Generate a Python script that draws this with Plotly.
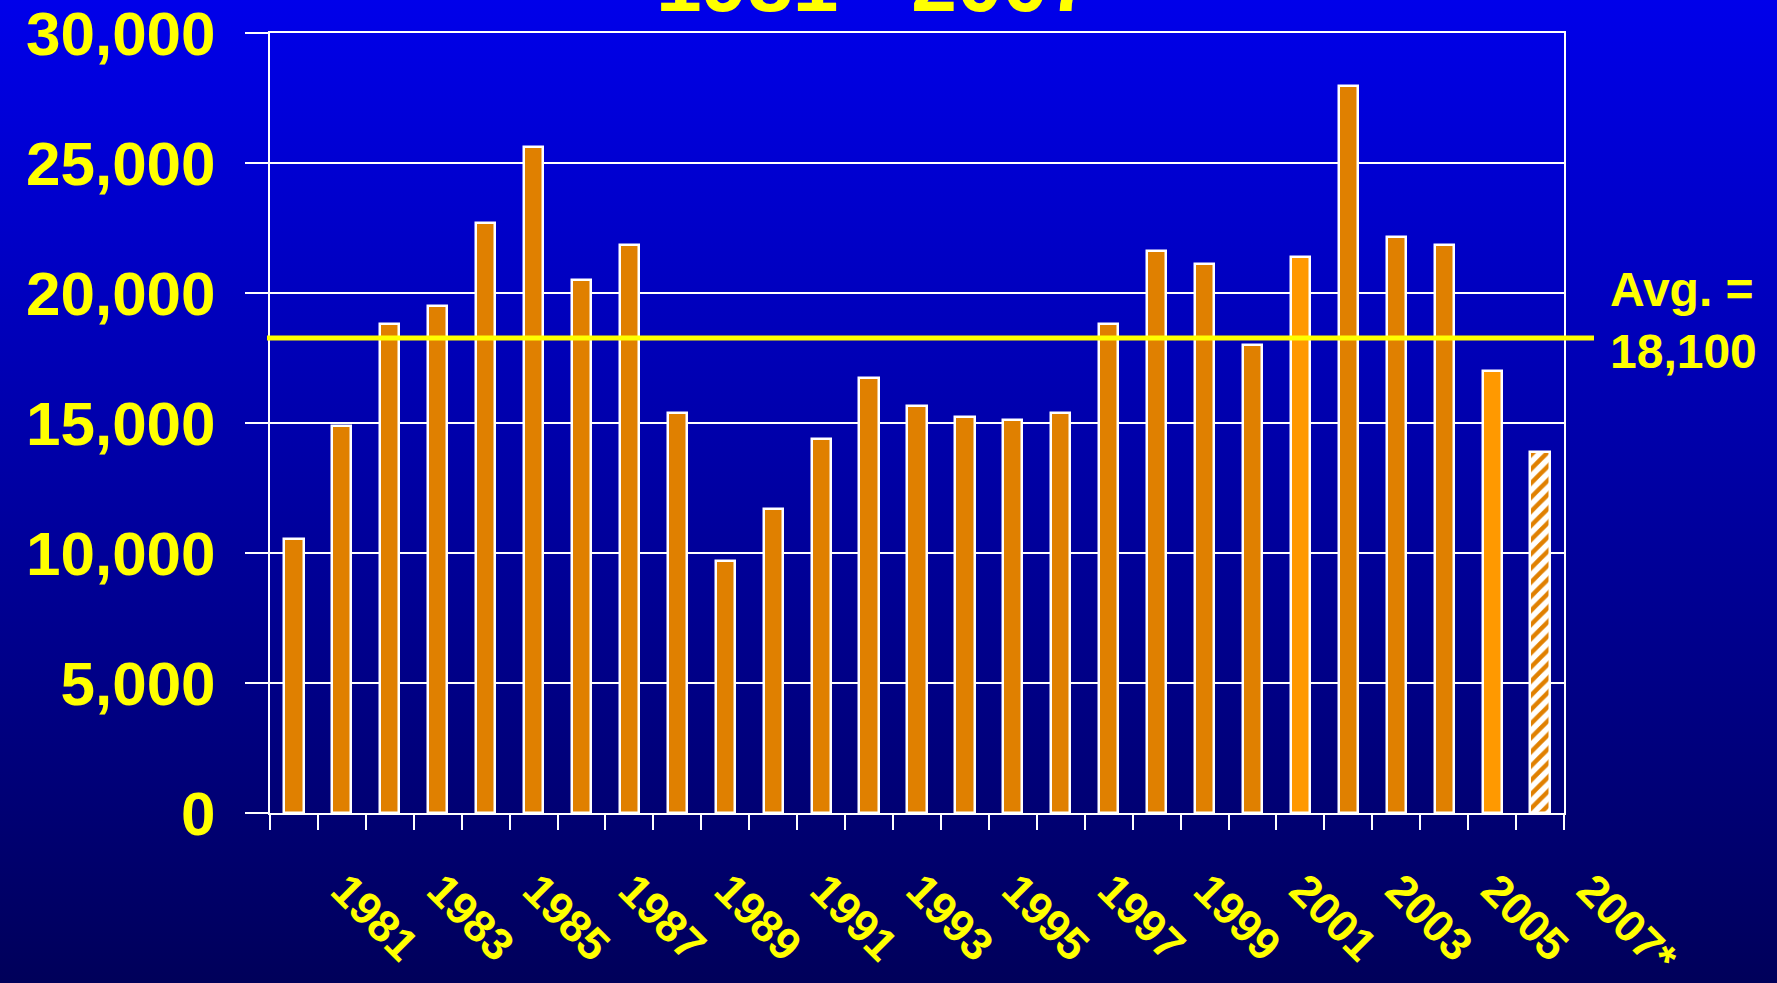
import base64
import plotly.graph_objects as go

# ---------------- data ----------------
years = list(range(1981, 2008))
values = [10550, 14900, 18800, 19500, 22700, 25600, 20500, 21850, 15400, 9700,
          11700, 14400, 16750, 15650, 15250, 15100, 15400, 18800, 21600, 21100,
          18000, 21400, 27950, 22150, 21850, 17000, 13870]
bright_years = [2002, 2006]        # lighter orange bars
projected_years = [2007]           # hatched (estimate) bar
label_years = list(range(1981, 2008, 2))
label_texts = [str(y) for y in label_years[:-1]] + ["2007*"]
y_ticks = [0, 5000, 10000, 15000, 20000, 25000, 30000]
y_tick_texts = ["0", "5,000", "10,000", "15,000", "20,000", "25,000", "30,000"]
avg_line_value = 18270
avg_text = "Avg. =<br>18,100"
title_text = "1981 - 2007"

# ---------------- styles ----------------
W, H = 1777, 983
L, R, T, B = 270, 213, 33, 170
PW, PH = W - L - R, H - T - B
YEL = "#FFFF00"
DARK_OR = "#E08000"
BRIGHT_OR = "#FF9900"
FONT = "Liberation Sans, Arial, sans-serif"

def px_to_paper_x(px):
    return (px - L) / PW

def px_to_paper_y(py):
    return 1 + (T - py) / PH

act_x = [y for y in years if y not in projected_years]
act_v = [v for y, v in zip(years, values) if y not in projected_years]
act_c = [BRIGHT_OR if y in bright_years else DARK_OR for y in act_x]
prj_x = [y for y in years if y in projected_years]
prj_v = [v for y, v in zip(years, values) if y in projected_years]

fig = go.Figure()
fig.add_trace(go.Bar(
    x=act_x, y=act_v, width=0.4,
    marker=dict(color=act_c, line=dict(color="white", width=2.5)),
    hoverinfo="skip", showlegend=False,
))
fig.add_trace(go.Bar(
    x=prj_x, y=prj_v, width=0.4,
    marker=dict(color="white", line=dict(color="white", width=2.5),
                pattern=dict(shape="/", fgcolor=DARK_OR, fgopacity=1,
                             size=10, solidity=0.45, fillmode="overlay")),
    hoverinfo="skip", showlegend=False,
))
# invisible trace that carries the label axis
fig.add_trace(go.Scatter(x=years, y=values, xaxis="x2", mode="none",
                         hoverinfo="skip", showlegend=False))

boundaries = [y - 0.5 for y in years] + [years[-1] + 0.5]
xr = [years[0] - 0.5, years[-1] + 0.5]
label_offset = 0.5
xr2 = [xr[0] - label_offset, xr[1] - label_offset]
pad = "\u00a0\u00a0\u00a0"
tick_texts2 = [pad + t for t in label_texts]

svg = (f'<svg xmlns="http://www.w3.org/2000/svg" width="{W}" height="{H}" preserveAspectRatio="none">'
       '<defs><linearGradient id="g" x1="0" y1="0" x2="0" y2="1">'
       '<stop offset="0" stop-color="#0000EA"/><stop offset="1" stop-color="#00005A"/>'
       '</linearGradient></defs><rect width="100%" height="100%" fill="url(#g)"/></svg>')
src = "data:image/svg+xml;base64," + base64.b64encode(svg.encode()).decode()

fig.update_layout(
    width=W, height=H,
    margin=dict(l=L, r=R, t=T, b=B, autoexpand=False),
    paper_bgcolor="#00005A",
    plot_bgcolor="rgba(0,0,0,0)",
    font=dict(family=FONT, color=YEL),
    bargap=0, barmode="overlay",
    images=[dict(source=src, xref="paper", yref="paper",
                 x=px_to_paper_x(0), y=px_to_paper_y(0),
                 sizex=W / PW, sizey=H / PH, sizing="stretch",
                 xanchor="left", yanchor="top", layer="below")],
    xaxis=dict(range=xr, tickmode="array", tickvals=boundaries,
               showticklabels=False, ticks="outside", ticklen=15, tickwidth=2,
               tickcolor="white", showline=True, linecolor="white", linewidth=2,
               mirror=True, showgrid=False, zeroline=False, fixedrange=True),
    xaxis2=dict(range=xr2, overlaying="x", side="bottom", anchor="y",
                tickmode="array", tickvals=label_years,
                ticktext=tick_texts2, tickangle=45, ticks="",
                tickfont=dict(family=FONT, size=45, color=YEL, weight="bold"),
                ticklabelstandoff=14, ticklabeloverflow="allow",
                showline=False, showgrid=False, zeroline=False),
    yaxis=dict(range=[0, 30000], tickmode="array", tickvals=y_ticks,
               ticktext=y_tick_texts,
               tickfont=dict(family=FONT, size=62, color=YEL, weight="bold"),
               ticks="outside", ticklen=23, tickwidth=2, tickcolor="white",
               ticklabelstandoff=17, ticklabeloverflow="allow",
               showgrid=True, gridcolor="white", gridwidth=2,
               showline=True, linecolor="white", linewidth=2, mirror=True,
               zeroline=False),
    shapes=[dict(type="line", xref="paper", yref="y",
                 x0=px_to_paper_x(267), x1=px_to_paper_x(1594),
                 y0=avg_line_value, y1=avg_line_value,
                 line=dict(color=YEL, width=5), layer="above")],
    annotations=[
        dict(text=avg_text, xref="paper", yref="paper",
             x=px_to_paper_x(1608), y=px_to_paper_y(320),
             xanchor="left", yanchor="middle", align="left", showarrow=False,
             font=dict(family=FONT, size=48, color=YEL, weight="bold")),
        dict(text=title_text, xref="paper", yref="paper",
             x=px_to_paper_x(875), y=px_to_paper_y(30),
             xanchor="center", yanchor="bottom", showarrow=False,
             font=dict(family=FONT, size=82, color=YEL, weight="bold")),
    ],
)

fig.write_html(
    "out.html",
    config={"displayModeBar": False},
    post_script="document.body.style.margin='0';document.body.style.background='#00005A';",
)
